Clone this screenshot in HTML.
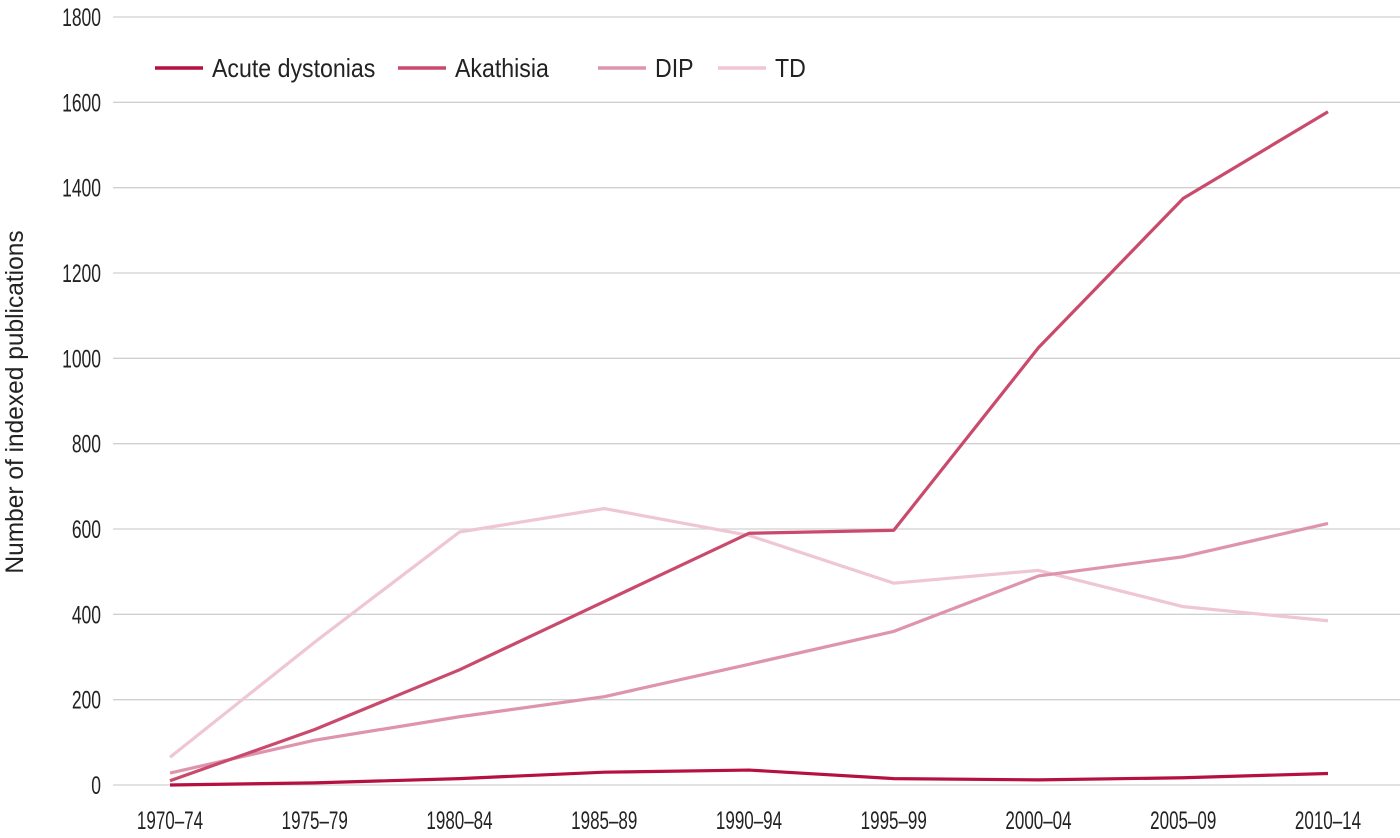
<!DOCTYPE html>
<html><head><meta charset="utf-8">
<style>
html,body{margin:0;padding:0;background:#fff;}
svg{display:block;font-family:"Liberation Sans Narrow","Liberation Sans",sans-serif;}
</style></head>
<body>
<svg id="chart" width="1400" height="838"></svg>
<script>
const categories=["1970–74","1975–79","1980–84","1985–89","1990–94","1995–99","2000–04","2005–09","2010–14"];
const acute=[0,5,15,30,35,15,12,17,27];
const akathisia=[10,130,270,430,590,597,1025,1375,1578];
const dip=[28,105,160,207,283,360,490,535,613];
const td=[65,335,593,648,585,473,503,418,385];
const yTicks=[0,200,400,600,800,1000,1200,1400,1600,1800];
const seriesNames=["Acute dystonias","Akathisia","DIP","TD"];
const seriesColors=["#b5103f","#c94a6c","#de94ad","#efc6d3"];
const seriesData=[acute,akathisia,dip,td];

const NS="http://www.w3.org/2000/svg";
const svg=document.getElementById('chart');
const x0=170,dx=144.75,yBase=785,yTop=17,yMax=1800;
function xs(i){return x0+i*dx;}
function ys(v){return yBase-(v/yMax)*(yBase-yTop);}
function mk(t,a,p){const e=document.createElementNS(NS,t);for(const k in a)e.setAttribute(k,a[k]);(p||svg).appendChild(e);return e;}
function txt(x,y,sx,anchor,size,s,extra){
  const t=mk('text',{x:0,y:0,transform:'translate('+x+','+y+')'+(extra||'')+' scale('+sx+',1)','text-anchor':anchor,'font-size':size,fill:'#222'});
  t.textContent=s;return t;
}

yTicks.forEach(v=>{
  const g=mk('line',{x1:113,x2:1400,y1:ys(v),y2:ys(v),stroke:'#d0d0d0','stroke-width':1.3});
  
  
  const t=txt(101,ys(v)+9,0.7,'end',25,String(v));
  
  
});
categories.forEach((c,i)=>{
  const t=txt(xs(i),829,0.68,'middle',25,c);
  
  
});
const yt=txt(23,402,0.98,'middle',25,'Number of indexed publications',' rotate(-90)');



[3,2,1,0].forEach(s=>{
  const d=seriesData[s].map((v,i)=>(i?'L':'M')+xs(i)+','+ys(v)).join(' ');
  const p=mk('path',{d:d,fill:'none',stroke:seriesColors[s],'stroke-width':3.2,'stroke-linejoin':'round'});
  
  
});

const legX=[155,398,598,718];
seriesNames.forEach((n,s)=>{
  const l=mk('line',{x1:legX[s],x2:legX[s]+48,y1:68,y2:68,stroke:seriesColors[s],'stroke-width':3.5});
  
  
  const t=txt(legX[s]+57,77,0.89,'start',26,n);
  
  
});
</script>
</body></html>
